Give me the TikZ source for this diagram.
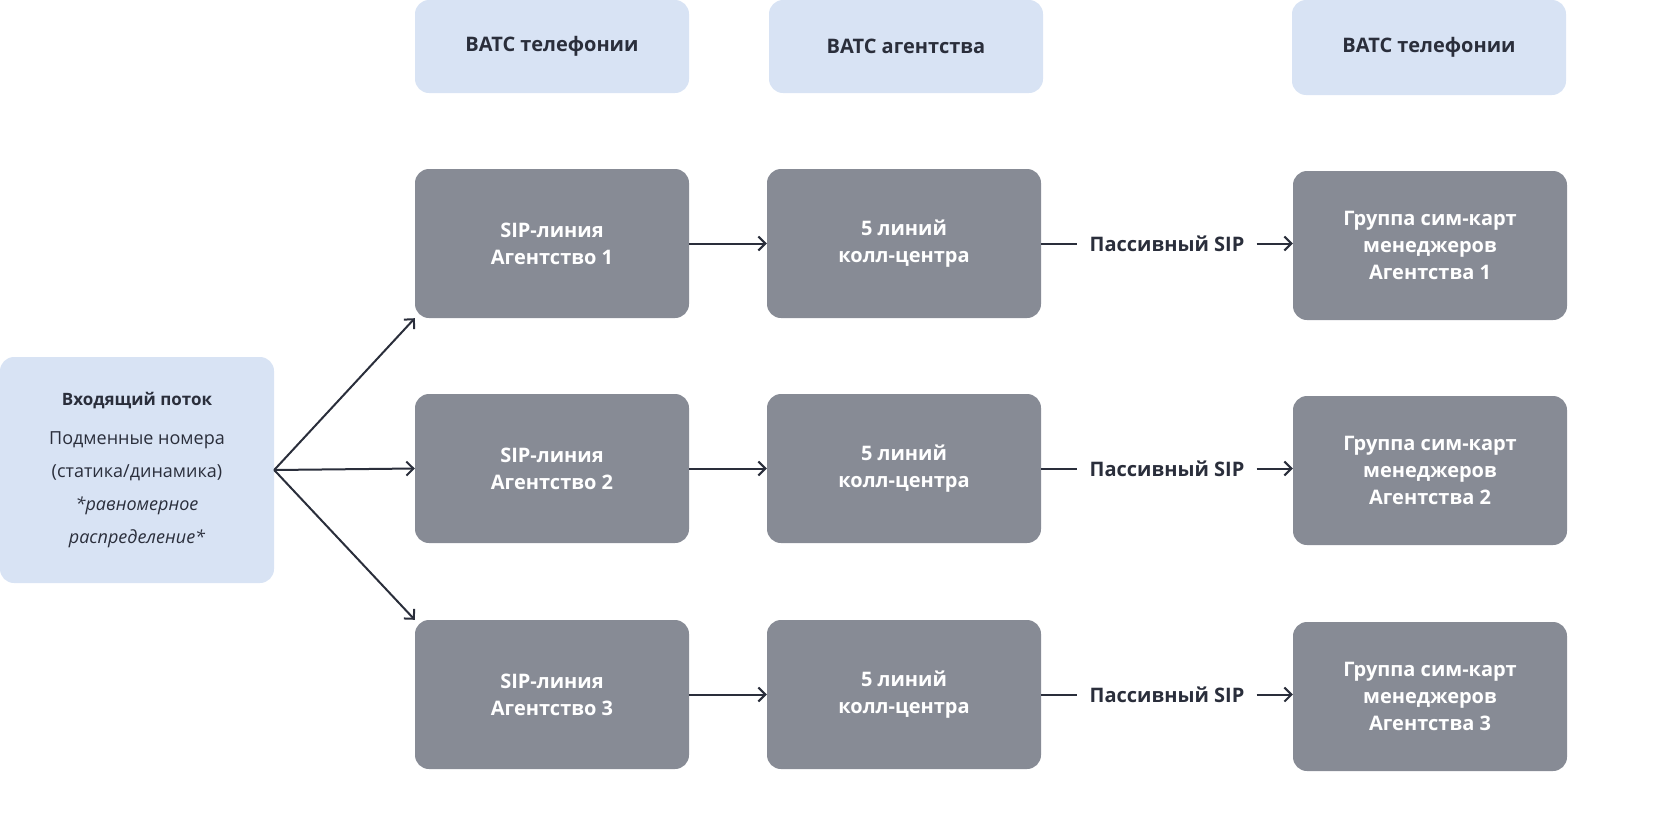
\documentclass[tikz,border=0pt]{standalone}
\usepackage{fontspec}
\setmainfont{Open Sans}
\usetikzlibrary{arrows.meta}
\definecolor{lightbox}{HTML}{D8E3F4}
\definecolor{greybox}{HTML}{878B95}
\definecolor{ink}{HTML}{2A2E3B}
\begin{document}
\begin{tikzpicture}[x=1pt,y=-1pt,
  hbox/.style={fill=lightbox, rounded corners=14pt, minimum width=274pt, minimum height=93pt,
    text=ink, font=\bfseries\fontsize{20}{26}\selectfont, inner sep=0pt},
  gbox/.style={fill=greybox, rounded corners=14pt, minimum width=274pt, minimum height=149pt,
    text=white, font=\bfseries\fontsize{20}{27}\selectfont, align=center, inner sep=0pt},
  conn/.style={draw=ink, line width=2pt, -{Straight Barb[length=7pt,width=14pt]}},
  plain/.style={draw=ink, line width=2pt},
  lbl/.style={text=ink, font=\bfseries\fontsize{20}{26}\selectfont, inner xsep=12pt, inner ysep=0pt}
]
\useasboundingbox (0,0) rectangle (1680,825);

% headers
\node[hbox] (h1) at (552,46.5) {ВАТС телефонии};
\node[hbox] (h2) at (906,46.5) {ВАТС агентства};
\node[hbox, minimum height=95pt] (h3) at (1429,47.5) {ВАТС телефонии};

% source box
\node[fill=lightbox, rounded corners=14pt, minimum width=274pt, minimum height=226pt,
  text=ink, align=center, inner sep=0pt, font=\fontsize{18}{33}\selectfont] (src) at (137,470)
  {{\bfseries\fontsize{17}{20}\selectfont Входящий поток}\\[6pt]
   Подменные номера\\
   (статика/динамика)\\
   {\itshape *равномерное}\\
   {\itshape распределение*}};

% rows
\foreach \i/\y in {1/243.5, 2/468.5, 3/694.5}{
  \node[gbox] (s\i) at (552,\y) {SIP-линия\\Агентство \i};
  \node[gbox] (f\i) at (904,\y) {5 линий\\колл-центра};
  \node[gbox] (g\i) at (1430,\y+2) {Группа сим-карт\\менеджеров\\Агентства \i};
  \node[lbl] (p\i) at (1167,\y) {Пассивный SIP};
}

% connectors
\draw[conn] (src.east) -- (s1.south west);
\draw[conn] (src.east) -- (s2.west);
\draw[conn] (src.east) -- (s3.north west);
\foreach \i in {1,2,3}{
  \draw[conn] (s\i.east) -- (f\i.west);
  \draw[plain] (f\i.east) -- (p\i.west);
  \draw[conn] (p\i.east) -- (g\i.west |- p\i.east);
}
\end{tikzpicture}
\end{document}
